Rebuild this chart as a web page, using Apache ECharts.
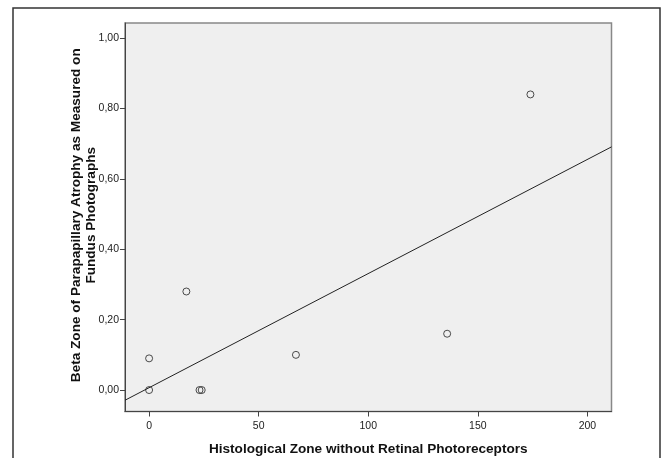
<!DOCTYPE html>
<html>
<head>
<meta charset="utf-8">
<script src="https://cdn.jsdelivr.net/npm/echarts@6/dist/echarts.min.js"></script>
<style>html,body{margin:0;padding:0;background:#fff;}#c{width:662px;height:458px;}</style>
</head>
<body>
<div id="c"></div>
<script>
// Data
var histZone = [0, 0, 17, 23, 24, 67, 136, 174];
var betaZone = [0, 0.09, 0.28, 0, 0, 0.10, 0.16, 0.84];
// Fit line endpoints
var fitX = [-11, 211];
var fitY = [-0.029, 0.691];
var xTicks = [0, 50, 100, 150, 200];
var yTicks = [0, 0.2, 0.4, 0.6, 0.8, 1.0];
var xTitle = 'Histological Zone without Retinal Photoreceptors';
var yTitle = 'Beta Zone of Parapapillary Atrophy as Measured on\nFundus Photographs';

var pts = histZone.map(function (x, i) { return [x, betaZone[i]]; });
var fit = fitX.map(function (x, i) { return [x, fitY[i]]; });

var chart = echarts.init(document.getElementById('c'), null, {renderer: 'canvas'});
var font = '"Liberation Sans", Arial, sans-serif';
chart.setOption({
  animation: false,
  textStyle: {fontFamily: font},
  grid: {left: 125, top: 23, right: 50.5, bottom: 46.5, show: true, outerBoundsMode: 'none',
         backgroundColor: '#efefef', borderColor: '#888', borderWidth: 1.5},
  graphic: [{type: 'rect', shape: {x: 13, y: 8, width: 647, height: 470},
             style: {fill: 'none', stroke: '#333', lineWidth: 1.5}, z: 100}],
  xAxis: {
    type: 'value', min: -11, max: 211,
    name: xTitle, nameLocation: 'middle', nameGap: 31, nameMoveOverlap: false,
    nameTextStyle: {fontSize: 13.6, fontWeight: 'bold', color: '#111', fontFamily: font},
    splitLine: {show: false},
    axisLine: {onZero: false, lineStyle: {color: '#444', width: 1}},
    axisTick: {customValues: xTicks, length: 5, lineStyle: {color: '#444'}},
    axisLabel: {customValues: xTicks, margin: 9, fontSize: 10.5, color: '#222', fontFamily: font}
  },
  yAxis: {
    type: 'value', min: -0.061, max: 1.043,
    name: yTitle, nameLocation: 'middle', nameGap: 26, nameRotate: 90, nameMoveOverlap: false,
    nameTextStyle: {fontSize: 13.6, fontWeight: 'bold', color: '#111', lineHeight: 15, align: 'center',
                    padding: [0, 0, 0, 4], fontFamily: font},
    splitLine: {show: false},
    axisLine: {onZero: false, lineStyle: {color: '#444', width: 1}},
    axisTick: {customValues: yTicks, length: 5, lineStyle: {color: '#444'}},
    axisLabel: {customValues: yTicks, margin: 6, fontSize: 10.5, color: '#222', fontFamily: font,
      formatter: function (v) { return v.toFixed(2).replace('.', ','); }}
  },
  series: [
    {type: 'line', data: fit, symbol: 'none', lineStyle: {color: '#222', width: 1}, z: 2},
    {type: 'scatter', data: pts, symbol: 'circle', symbolSize: 7,
     itemStyle: {color: 'rgba(0,0,0,0)', borderColor: '#222', borderWidth: 1}, z: 3}
  ]
});
</script>
</body>
</html>
